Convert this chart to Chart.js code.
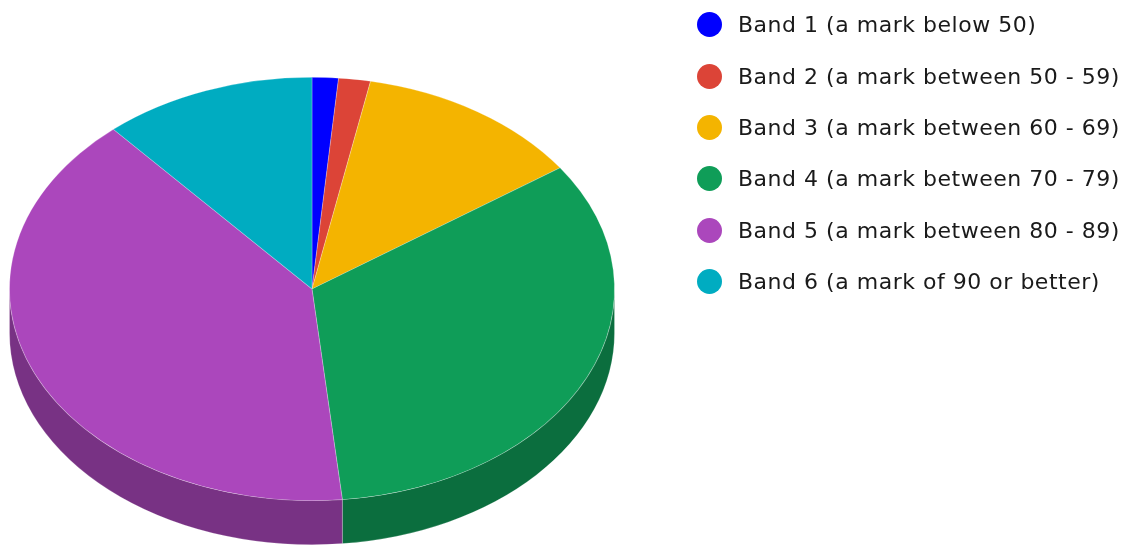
<!DOCTYPE html>
<html>
<head>
<meta charset="utf-8">
<script src="https://cdn.jsdelivr.net/npm/chart.js@4"></script>
<style>
    html, body { margin: 0; background: #fff; overflow: hidden; }
    #contenedor { position: relative; width: 1129px; height: 545px; }
    #leyenda {
        position: absolute; left: 697px; top: -1px; margin: 0; padding: 0; list-style: none;
        font-family: "DejaVu Sans", sans-serif; font-size: 22px; letter-spacing: 0.52px; color: #1a1a1a;
    }
    #leyenda li { display: flex; align-items: center; height: 51.4px; white-space: nowrap; }
    #leyenda span { width: 25px; height: 25px; border-radius: 50%; margin-right: 16px; }
</style>
</head>
<body>
<div id="contenedor">
    <canvas id="grafica" width="1129" height="545"></canvas>
    <ul id="leyenda"></ul>
</div>
<script>
const bandas = [
    'Band 1 (a mark below 50)',
    'Band 2 (a mark between 50 - 59)',
    'Band 3 (a mark between 60 - 69)',
    'Band 4 (a mark between 70 - 79)',
    'Band 5 (a mark between 80 - 89)',
    'Band 6 (a mark of 90 or better)'
];
const porcentajes = [1.4, 1.7, 12.2, 33.1, 40.2, 11.4];
const colores = ['#0000ff', '#dc4437', '#f4b400', '#0f9d58', '#ab47bc', '#00acc1'];
const coloresLado = ['#0000b0', '#9a2f26', '#ab7e00', '#0b6e3e', '#783284', '#007887'];

const ESTIRADO = 303 / 212;
const GROSOR = 44;

// the pie is drawn round, then stretched sideways to look tilted
const pastel3d = {
    id: 'pastel3d',
    beforeDatasetsDraw(chart) {
        const ctx = chart.ctx;
        const arcos = chart.getDatasetMeta(0).data;
        const cx = arcos[0].x;
        ctx.save();
        ctx.translate(cx, 0);
        ctx.scale(ESTIRADO, 1);
        ctx.translate(-cx, 0);
        arcos.forEach((arco, i) => {
            const ini = Math.max(arco.startAngle, 0);
            const fin = Math.min(arco.endAngle, Math.PI);
            if (fin <= ini) return;
            const r = arco.outerRadius;
            ctx.beginPath();
            ctx.arc(arco.x, arco.y + GROSOR, r, ini, fin);
            ctx.arc(arco.x, arco.y, r, fin, ini, true);
            ctx.closePath();
            ctx.fillStyle = coloresLado[i];
            ctx.fill();
            ctx.strokeStyle = 'rgba(255, 255, 255, 0.2)';
            ctx.lineWidth = 0.7;
            ctx.stroke();
        });
    },
    afterDatasetsDraw(chart) {
        chart.ctx.restore();
    }
};

function initGrafica() {
    const ctx = document.getElementById('grafica').getContext('2d');
    new Chart(ctx, {
        type: 'pie',
        data: {
            labels: bandas,
            datasets: [{
                data: porcentajes,
                backgroundColor: colores,
                borderWidth: 0.7,
                borderColor: 'rgba(255, 255, 255, 0.25)',
                clip: false
            }]
        },
        options: {
            responsive: false,
            animation: false,
            layout: { padding: { left: 100, right: 605, top: 77, bottom: 44 } },
            plugins: {
                legend: { display: false },
                tooltip: { enabled: false }
            }
        },
        plugins: [pastel3d]
    });

    const leyenda = document.getElementById('leyenda');
    bandas.forEach((banda, i) => {
        const item = document.createElement('li');
        const punto = document.createElement('span');
        punto.style.background = colores[i];
        item.appendChild(punto);
        item.appendChild(document.createTextNode(banda));
        leyenda.appendChild(item);
    });
}

document.addEventListener('DOMContentLoaded', initGrafica);
</script>
</body>
</html>
